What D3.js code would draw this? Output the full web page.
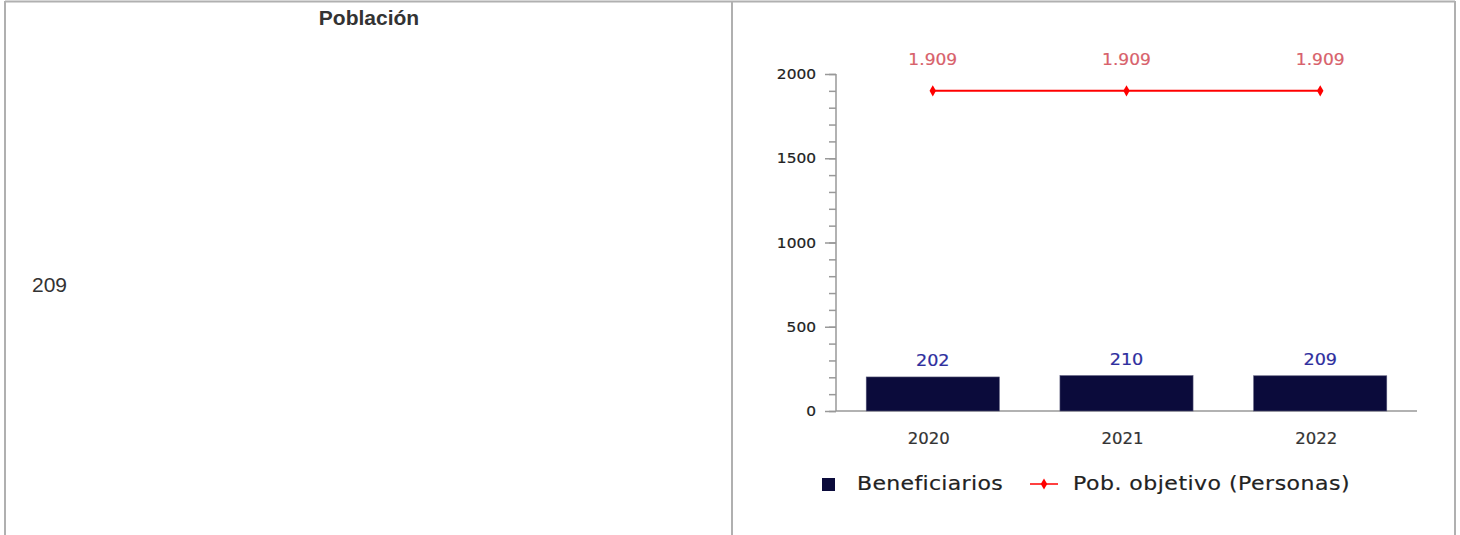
<!DOCTYPE html>
<html>
<head>
<meta charset="utf-8">
<script src="https://cdn.jsdelivr.net/npm/d3@7"></script>
<style>
  body { margin: 0; background: #fff; }
  svg { display: block; }
</style>
</head>
<body>
<svg id="page" width="1460" height="535"></svg>
<script>
// values
var years = ['2020', '2021', '2022'];
var beneficiarios = [202, 210, 209];
var objetivo = [1909, 1909, 1909];
var objetivoLabels = ['1.909', '1.909', '1.909'];
var yMajor = [0, 500, 1000, 1500, 2000];
var headerText = 'Población';
var cellValue = '209';

var svg = d3.select('#page');
var chartFont = 'DejaVu Sans';
var stretch = 1.1; // chart text is a bit wide in the original

// table borders
var border = '#b0b0b0';
svg.append('line').attr('x1', 5).attr('x2', 1455).attr('y1', 1.5).attr('y2', 1.5)
  .attr('stroke', border).attr('stroke-width', 2);
[5, 732, 1455].forEach(function(x){
  svg.append('line').attr('x1', x).attr('x2', x).attr('y1', 1).attr('y2', 535)
    .attr('stroke', border).attr('stroke-width', 2);
});

// left cell
svg.append('text')
  .attr('x', 369).attr('y', 25)
  .attr('text-anchor', 'middle')
  .style('font-family', 'Liberation Sans, Arial, sans-serif')
  .style('font-weight', 'bold')
  .style('font-size', '21px')
  .style('fill', '#333')
  .text(headerText);

svg.append('text')
  .attr('x', 32).attr('y', 292)
  .style('font-family', 'Liberation Sans, Arial, sans-serif')
  .style('font-size', '21px')
  .style('fill', '#333')
  .text(cellValue);

// chart
var x = d3.scaleBand()
  .domain(years)
  .range([836, 1417])
  .paddingInner(0.313)
  .paddingOuter(0.156);

var y = d3.scaleLinear()
  .domain([0, 2000])
  .range([411, 74]);

function stretchedText(sel, tx, ty, size, fill, anchor) {
  return sel.append('text')
    .attr('transform', 'translate(' + tx + ',' + ty + ') scale(' + stretch + ',1)')
    .attr('text-anchor', anchor || 'middle')
    .style('font-family', chartFont)
    .style('font-size', size + 'px')
    .style('fill', fill)
    .style('stroke', fill)
    .style('stroke-width', 0.2);
}

// y axis, major + minor ticks
var axisColor = '#999';
var yAxis = svg.append('g')
  .attr('transform', 'translate(836,0)')
  .call(d3.axisLeft(y).tickValues(d3.range(0, 2001, 100)).tickSize(7).tickFormat(''));
yAxis.selectAll('line').attr('stroke', axisColor).attr('stroke-width', 1.5);
yAxis.select('.domain').attr('stroke', axisColor).attr('stroke-width', 1.5)
  .attr('d', 'M0,' + y(2000) + 'V' + y(0));

var yMaj = svg.append('g')
  .attr('transform', 'translate(836,0)')
  .call(d3.axisLeft(y).tickValues(yMajor).tickSize(11).tickFormat(''));
yMaj.select('.domain').remove();
yMaj.selectAll('line').attr('stroke', axisColor).attr('stroke-width', 1.5);

yMajor.forEach(function(v){
  stretchedText(svg, 816, y(v) + 5, 14, '#222', 'end').text(v);
});

// x axis line
svg.append('line')
  .attr('x1', 836).attr('x2', 1417)
  .attr('y1', y(0)).attr('y2', y(0))
  .attr('stroke', axisColor).attr('stroke-width', 1.5);

years.forEach(function(yr){
  stretchedText(svg, x(yr) + x.bandwidth() / 2 - 4, 444, 15, '#333').text(yr);
});

// bars
var barColor = '#0b0b3b';
svg.selectAll('.bar')
  .data(beneficiarios)
  .enter().append('rect')
  .attr('class', 'bar')
  .attr('x', function(d, i){ return x(years[i]); })
  .attr('width', x.bandwidth())
  .attr('y', function(d){ return y(d); })
  .attr('height', function(d){ return y(0) - y(d); })
  .attr('fill', barColor)
  .attr('stroke', '#555577')
  .attr('stroke-width', 0.6);

beneficiarios.forEach(function(d, i){
  stretchedText(svg, x(years[i]) + x.bandwidth() / 2, y(d) - 11, 16, '#2e2e9e').text(d);
});

// target line
var lineColor = '#ff0000';
var line = d3.line()
  .x(function(d, i){ return x(years[i]) + x.bandwidth() / 2; })
  .y(function(d){ return y(d) + 1.5; });

svg.append('path')
  .datum(objetivo)
  .attr('d', line)
  .attr('fill', 'none')
  .attr('stroke', lineColor)
  .attr('stroke-width', 2);

var diamond = d3.symbol().type(d3.symbolDiamond).size(36);
svg.selectAll('.mark')
  .data(objetivo)
  .enter().append('path')
  .attr('class', 'mark')
  .attr('d', diamond)
  .attr('transform', function(d, i){
    return 'translate(' + (x(years[i]) + x.bandwidth() / 2) + ',' + (y(d) + 1.5) + ')';
  })
  .attr('fill', lineColor);

objetivo.forEach(function(d, i){
  stretchedText(svg, x(years[i]) + x.bandwidth() / 2, y(d) - 24, 15.5, '#d8616b').text(objetivoLabels[i]);
});

// legend
svg.append('rect')
  .attr('x', 822).attr('y', 478).attr('width', 13).attr('height', 13)
  .attr('fill', barColor);
stretchedText(svg, 857, 490, 20, '#222', 'start')
  .style('letter-spacing', '0.3px')
  .text('Beneficiarios');

svg.append('line')
  .attr('x1', 1030).attr('x2', 1058).attr('y1', 484).attr('y2', 484)
  .attr('stroke', lineColor).attr('stroke-width', 1.5);
svg.append('path')
  .attr('d', diamond)
  .attr('transform', 'translate(1044,484)')
  .attr('fill', lineColor);
stretchedText(svg, 1073, 490, 20, '#222', 'start')
  .style('letter-spacing', '0.45px')
  .text('Pob. objetivo (Personas)');
</script>
</body>
</html>
